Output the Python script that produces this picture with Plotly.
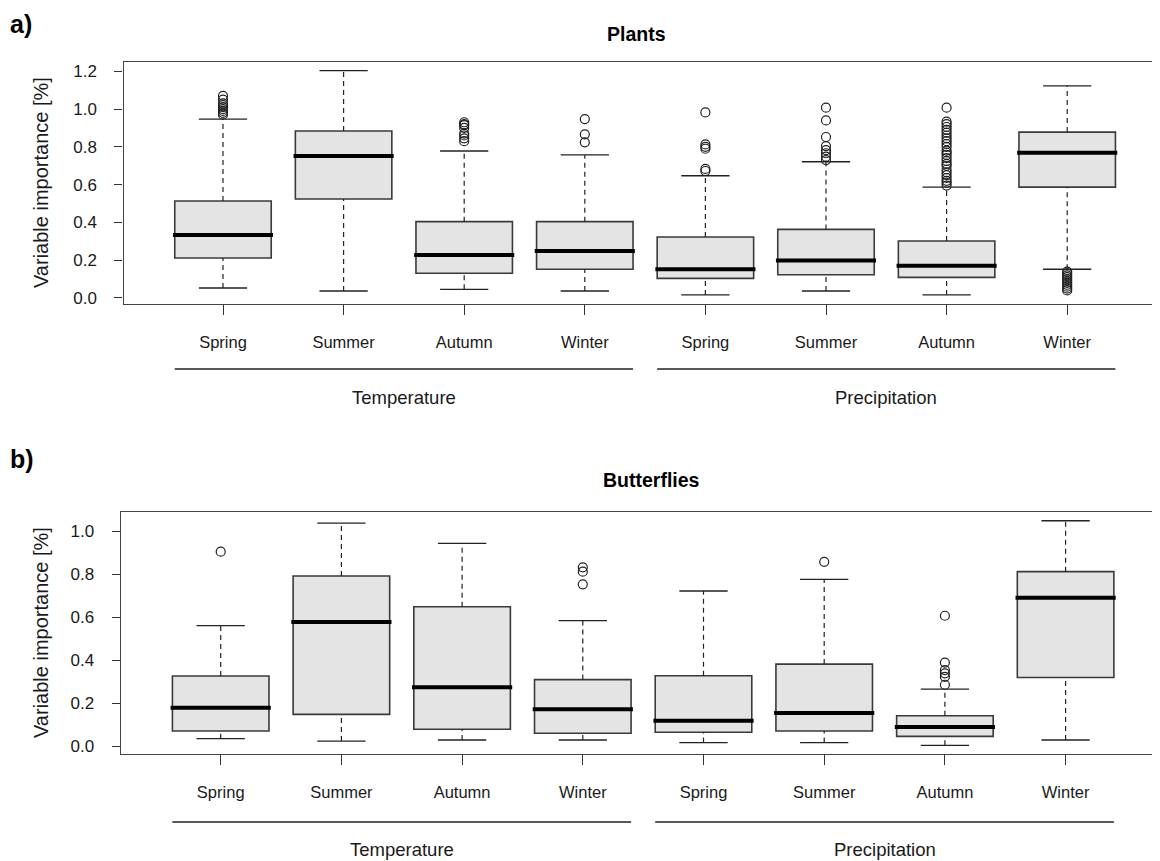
import plotly.graph_objects as go

# ---------------- data ----------------
categories = ["Spring", "Summer", "Autumn", "Winter", "Spring", "Summer", "Autumn", "Winter"]
groups = ["Temperature", "Precipitation"]
positions = [1, 2, 3, 4, 5, 6, 7, 8]

# Panel a) Plants
plants_lo = [0.053, 0.037, 0.046, 0.037, 0.016, 0.037, 0.016, 0.152]
plants_q1 = [0.212, 0.524, 0.131, 0.152, 0.104, 0.123, 0.109, 0.587]
plants_med = [0.333, 0.751, 0.228, 0.249, 0.152, 0.199, 0.171, 0.769]
plants_q3 = [0.513, 0.884, 0.404, 0.404, 0.323, 0.363, 0.302, 0.878]
plants_hi = [0.947, 1.203, 0.778, 0.757, 0.647, 0.721, 0.587, 1.123]
plants_out = [
    [0.97, 0.98, 0.99, 1.00, 1.01, 1.02, 1.03, 1.05, 1.07],
    [],
    [0.83, 0.845, 0.86, 0.87, 0.90, 0.915, 0.92, 0.93],
    [0.824, 0.866, 0.947],
    [0.672, 0.683, 0.79, 0.80, 0.813, 0.982],
    [0.73, 0.748, 0.766, 0.783, 0.804, 0.852, 0.940, 1.007],
    [0.595, 0.61, 0.62, 0.635, 0.65, 0.665, 0.68, 0.70, 0.71, 0.725, 0.74, 0.757,
     0.77, 0.78, 0.80, 0.815, 0.83, 0.845, 0.86, 0.875, 0.89, 0.905, 0.92, 0.933, 1.007],
    [0.04, 0.05, 0.06, 0.07, 0.08, 0.09, 0.10, 0.11, 0.12, 0.13, 0.14],
]

# Panel b) Butterflies
bfly_lo = [0.034, 0.023, 0.028, 0.028, 0.016, 0.016, 0.003, 0.028]
bfly_q1 = [0.070, 0.147, 0.078, 0.059, 0.064, 0.070, 0.045, 0.319]
bfly_med = [0.178, 0.577, 0.273, 0.171, 0.118, 0.153, 0.088, 0.690]
bfly_q3 = [0.326, 0.791, 0.648, 0.309, 0.327, 0.381, 0.141, 0.811]
bfly_hi = [0.560, 1.037, 0.943, 0.583, 0.721, 0.775, 0.265, 1.048]
bfly_out = [
    [0.904],
    [],
    [],
    [0.752, 0.811, 0.831],
    [],
    [0.857],
    [0.285, 0.322, 0.338, 0.353, 0.388, 0.606],
    [],
]

# ---------------- figure ----------------
W, H = 1160, 861
OFF = 8  # page body margin
FONT = "Liberation Sans, Arial, sans-serif"
TXT = "#1a1a1a"
BOX_FILL = "#e4e4e4"
BOX_LINE = "#3a3a3a"


def px(xp):
    return (xp - OFF) / W


def py(yp):
    return 1 - (yp - OFF) / H


fig = go.Figure()


def add_panel(fig, xref, yref, lo, q1, med, q3, hi, outs):
    fig.add_trace(go.Box(
        x=positions, q1=q1, median=med, q3=q3, lowerfence=q1, upperfence=q3,
        width=0.8, fillcolor=BOX_FILL, line=dict(color=BOX_LINE, width=1.6),
        whiskerwidth=0, boxpoints=False, hoverinfo="skip", showlegend=False,
        xaxis=xref, yaxis=yref))
    wx, wy = [], []
    for p, a, b, c, d in zip(positions, lo, q1, q3, hi):
        wx += [p, p, None, p, p, None]
        wy += [a, b, None, c, d, None]
    fig.add_trace(go.Scatter(x=wx, y=wy, mode="lines",
                             line=dict(color="#222222", width=1.2, dash="5px,4px"),
                             hoverinfo="skip", showlegend=False, xaxis=xref, yaxis=yref))
    cx, cy = [], []
    for p, a, d in zip(positions, lo, hi):
        cx += [p - 0.2, p + 0.2, None, p - 0.2, p + 0.2, None]
        cy += [a, a, None, d, d, None]
    fig.add_trace(go.Scatter(x=cx, y=cy, mode="lines",
                             line=dict(color="#222222", width=1.3),
                             hoverinfo="skip", showlegend=False, xaxis=xref, yaxis=yref))
    mx, my = [], []
    for p, m in zip(positions, med):
        mx += [p - 0.415, p + 0.415, None]
        my += [m, m, None]
    fig.add_trace(go.Scatter(x=mx, y=my, mode="lines",
                             line=dict(color="black", width=4),
                             hoverinfo="skip", showlegend=False, xaxis=xref, yaxis=yref))
    ox, oy = [], []
    for p, o in zip(positions, outs):
        ox += [p] * len(o)
        oy += o
    fig.add_trace(go.Scatter(x=ox, y=oy, mode="markers",
                             marker=dict(symbol="circle-open", size=9, color="#222222",
                                         line=dict(width=1.2, color="#222222")),
                             hoverinfo="skip", showlegend=False, xaxis=xref, yaxis=yref))


add_panel(fig, "x", "y", plants_lo, plants_q1, plants_med, plants_q3, plants_hi, plants_out)
add_panel(fig, "x2", "y2", bfly_lo, bfly_q1, bfly_med, bfly_q3, bfly_hi, bfly_out)


def xaxis_cfg(domain, rng):
    return dict(domain=domain, range=rng, tickmode="array", tickvals=positions,
                ticktext=categories, ticks="outside", ticklen=10, tickwidth=1.2,
                tickcolor="#333333", showline=True, mirror=True, linecolor="#444444",
                linewidth=1.4, showgrid=False, zeroline=False, automargin=False,
                ticklabelstandoff=13, tickfont=dict(family=FONT, size=16.5, color=TXT))


def yaxis_cfg(domain, rng, ticks):
    return dict(domain=domain, range=rng, tickmode="array", tickvals=ticks,
                ticktext=["%.1f" % t for t in ticks], ticks="outside", ticklen=8,
                tickwidth=1.2, tickcolor="#333333", showline=True, mirror=False,
                linecolor="#444444", linewidth=1.4, showgrid=False, zeroline=False,
                automargin=False, ticklabelstandoff=14,
                tickfont=dict(family=FONT, size=17, color=TXT))


fig.update_layout(
    width=W, height=H, margin=dict(l=0, r=0, t=0, b=0),
    paper_bgcolor="white", plot_bgcolor="white", showlegend=False,
    xaxis=xaxis_cfg([px(123.5), 1.0], [0.175, 1 + (1168 - 223) / 120.6]),
    yaxis=yaxis_cfg([py(304), py(62)], [-0.0318, 1.249],
                    [0.0, 0.2, 0.4, 0.6, 0.8, 1.0, 1.2]),
    xaxis2=xaxis_cfg([px(120.7), 1.0], [0.1715, 1 + (1168 - 220.7) / 120.7]),
    yaxis2=yaxis_cfg([py(754), py(511.7)], [-0.0372, 1.09],
                     [0.0, 0.2, 0.4, 0.6, 0.8, 1.0]),
)
fig.layout.xaxis2.anchor = "y2"
fig.layout.yaxis2.anchor = "x2"

ann = []
shapes = []
panels = [
    dict(xref="x", label="a)", label_top=8, title="Plants", title_x=637, title_y=34,
         ytitle_y=183, line_y=369, group_y=397),
    dict(xref="x2", label="b)", label_top=443, title="Butterflies", title_x=651, title_y=480,
         ytitle_y=633, line_y=822, group_y=849),
]
for p in panels:
    ann.append(dict(text="<b>%s</b>" % p["label"], x=px(8), y=py(p["label_top"]),
                    xref="paper", yref="paper", xanchor="left", yanchor="top",
                    showarrow=False, font=dict(family=FONT, size=25, color="black")))
    ann.append(dict(text="<b>%s</b>" % p["title"], x=px(p["title_x"]), y=py(p["title_y"]),
                    xref="paper", yref="paper", xanchor="center", yanchor="middle",
                    showarrow=False, font=dict(family=FONT, size=19.5, color="black")))
    ann.append(dict(text="Variable importance [%]", x=px(41), y=py(p["ytitle_y"]),
                    xref="paper", yref="paper", xanchor="center", yanchor="middle",
                    textangle=-90, showarrow=False, font=dict(family=FONT, size=20, color=TXT)))
    for gi, g in enumerate(groups):
        start = positions[gi * 4]
        end = positions[gi * 4 + 3]
        shapes.append(dict(type="line", xref=p["xref"], yref="paper",
                           x0=start - 0.4, x1=end + 0.4,
                           y0=py(p["line_y"]), y1=py(p["line_y"]),
                           line=dict(color="#222222", width=1.5)))
        ann.append(dict(text=g, x=(start + end) / 2, y=py(p["group_y"]),
                        xref=p["xref"], yref="paper", xanchor="center", yanchor="middle",
                        showarrow=False, font=dict(family=FONT, size=18.5, color=TXT)))

fig.update_layout(annotations=ann, shapes=shapes)
fig.write_html("out.html")
